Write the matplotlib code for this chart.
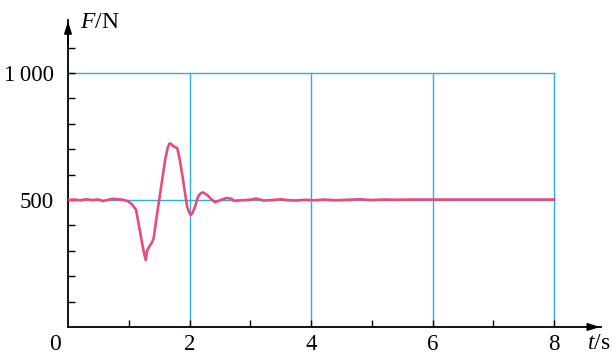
import matplotlib
matplotlib.use('Agg')
import matplotlib.pyplot as plt

plt.rcParams['font.family'] = ['Liberation Serif', 'DejaVu Serif']
plt.rcParams['mathtext.fontset'] = 'custom'
plt.rcParams['mathtext.rm'] = 'Liberation Serif'
plt.rcParams['mathtext.it'] = 'Liberation Serif:italic'

# 压力传感器读数
t = [0.0, 0.1, 0.2, 0.3, 0.4, 0.5, 0.58, 0.66, 0.74, 0.82, 0.9, 0.98, 1.05,
     1.12, 1.18, 1.24, 1.28, 1.30, 1.34, 1.38, 1.41, 1.45, 1.50, 1.55, 1.60,
     1.64, 1.67, 1.70, 1.73, 1.77, 1.80, 1.84, 1.88, 1.91, 1.96, 2.00, 2.02,
     2.05, 2.09, 2.14, 2.18, 2.22, 2.29, 2.35, 2.42, 2.48, 2.53, 2.61, 2.69,
     2.73, 2.80, 2.93, 3.02, 3.09, 3.16, 3.22, 3.35, 3.51, 3.60, 3.75, 3.90,
     4.05, 4.20, 4.40, 4.60, 4.80, 5.00, 5.20, 5.40, 5.70, 6.00, 6.50, 7.00,
     7.50, 8.0]
F = [500, 502, 499, 503, 500, 502, 496, 501, 505, 503, 501, 496, 484,
     461, 382, 303, 263, 300, 318, 332, 350, 420, 500, 580, 660,
     705, 723, 720, 712, 708, 703, 657, 600, 552, 474, 448, 441,
     450, 474, 513, 526, 530, 520, 505, 491, 497, 502, 508, 505,
     497, 498, 500, 502, 506, 502, 498, 500, 503, 500, 498, 501,
     499, 502, 499, 501, 503, 500, 502, 501, 502, 502, 502, 502,
     502, 502]

x_major = [1, 2, 3, 4, 5, 6, 7, 8]
x_labels = ['', '2', '', '4', '', '6', '', '8']
y_major = [100, 200, 300, 400, 500, 600, 700, 800, 900, 1000, 1100]
y_labels = ['', '', '', '', '500', '', '', '', '', '1\u2009000', '']
grid_t = [2, 4, 6, 8]
grid_F = [500, 1000]

blue = '#29aee6'
pink = '#ea4a7e'

fig = plt.figure(figsize=(6.16, 3.54), dpi=100)
ax = fig.add_axes([68 / 616, 27 / 354, 533 / 616, 307 / 354])
ax.set_xlim(0, 8.77)
ax.set_ylim(0, 1209)

# 网格线
for g in grid_t:
    ax.plot([g, g], [0, 1000], color=blue, lw=1.0, zorder=1)
for g in grid_F:
    ax.plot([0, 8], [g, g], color=blue, lw=1.0, zorder=1)

ax.plot(t, F, color=pink, lw=1.9, zorder=3)

ax.spines['top'].set_visible(False)
ax.spines['right'].set_visible(False)
ax.spines['left'].set_linewidth(1.3)
ax.spines['bottom'].set_linewidth(1.3)

# 坐标轴箭头
ax.annotate('', xy=(8.80, 0), xytext=(8.5, 0), xycoords='data',
            arrowprops=dict(arrowstyle='-|>,head_length=0.7,head_width=0.22',
                            color='k', lw=1.3), annotation_clip=False)
ax.annotate('', xy=(0, 1215), xytext=(0, 1100), xycoords='data',
            arrowprops=dict(arrowstyle='-|>,head_length=0.7,head_width=0.22',
                            color='k', lw=1.3), annotation_clip=False)

ax.set_xticks(x_major)
ax.set_xticklabels(x_labels)
ax.set_yticks(y_major)
ax.set_yticklabels(y_labels)
ax.tick_params(direction='in', length=5, width=1.0, labelsize=16.5)
ax.tick_params(axis='x', pad=5)
ax.tick_params(axis='y', pad=10)

ax.text(-0.11, -28, '0', fontsize=17, ha='right', va='top')
ax.text(0.19, 1200, '$F$/N', fontsize=17, ha='left', va='center')
ax.text(8.54, -22, '$t$/s', fontsize=17, ha='left', va='top', clip_on=False)

fig.savefig('out.png', dpi=100)
